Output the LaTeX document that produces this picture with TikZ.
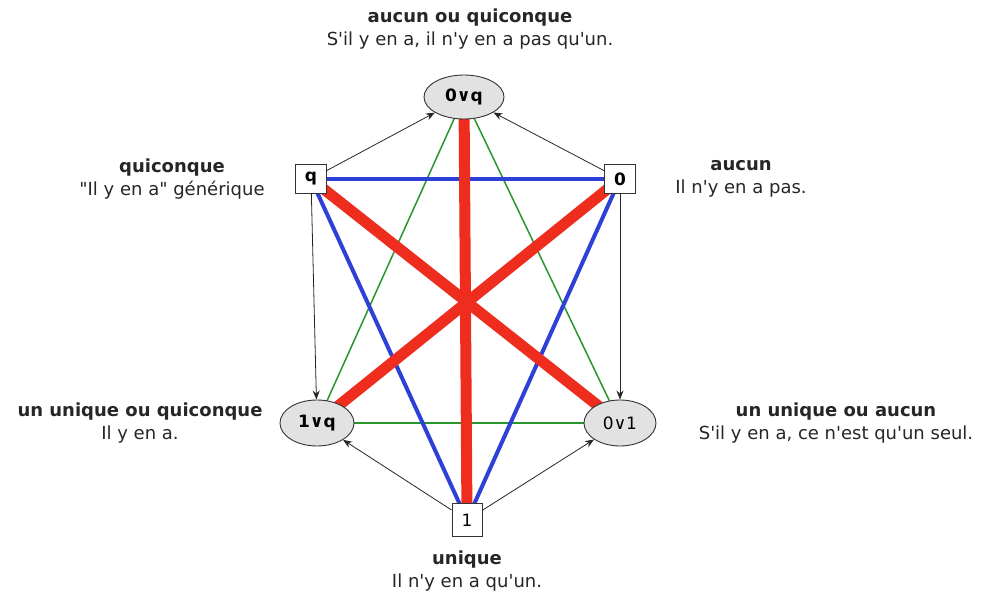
\documentclass[tikz,border=0pt]{standalone}
\usepackage{fontspec}
\setmainfont{DejaVu Sans}[Ligatures=TeXOff]
\usetikzlibrary{shapes.geometric,arrows.meta}
\definecolor{rline}{RGB}{238,45,30}
\definecolor{bline}{RGB}{45,65,215}
\definecolor{gline}{RGB}{40,150,45}
\definecolor{efill}{RGB}{226,226,226}
\pgfdeclarelayer{bg}
\pgfsetlayers{bg,main}
\begin{document}
\begin{tikzpicture}[x=1pt,y=-1pt,
  ell/.style={ellipse,draw=black!80,fill=efill,line width=0.9pt,minimum width=80,minimum height=44,inner sep=0pt,font=\fontsize{17}{20}\selectfont},
  sq/.style={rectangle,draw=black!80,fill=white,line width=0.9pt,minimum width=31,minimum height=29,inner sep=0pt,font=\fontsize{17}{20}\selectfont},
  lab/.style={align=center,font=\fontsize{18}{23}\selectfont,text=black!85},
  redl/.style={draw=rline,line width=11pt},
  bluel/.style={draw=bline,line width=4pt},
  greenl/.style={draw=gline,line width=1.5pt},
  arr/.style={draw=black!85,line width=0.8pt,-{Stealth[length=9pt,width=7pt]}}
]
\useasboundingbox (0,0) rectangle (989,596);

% nodes
\node[ell] (oq) at (464,97) {\textbf{0∨q}};
\node[sq] (q) at (311,179) {\textbf{q}};
\node[sq] (z) at (620,179) {\textbf{0}};
\node[ell,minimum width=74,minimum height=46] (uq) at (317,423) {\textbf{1∨q}};
\node[ell,minimum width=72,minimum height=46] (zu) at (620,423) {0∨1};
\node[sq,minimum width=30,minimum height=33] (u) at (467,520) {1};

% background connectors
\begin{pgfonlayer}{bg}
\draw[greenl] (oq.center) -- (uq.center);
\draw[greenl] (oq.center) -- (zu.center);
\draw[greenl] (uq.center) -- (zu.center);
\draw[bluel] (q.center) -- (z.center);
\draw[bluel] (q.center) -- (u.center);
\draw[bluel] (z.center) -- (u.center);
\draw[redl] (oq.center) -- (u.center);
\draw[redl] (q.center) -- (zu.center);
\draw[redl] (z.center) -- (uq.center);
\end{pgfonlayer}

% arrows
\draw[arr] (q) -- (oq);
\draw[arr] (z) -- (oq);
\draw[arr] (q) -- (uq);
\draw[arr] (z) -- (zu);
\draw[arr] (u) -- (uq);
\draw[arr] (u) -- (zu);

% labels
\node[lab] (toplab) at (470,29) {\textbf{aucun ou quiconque}\\S'il y en a, il n'y en a pas qu'un.};
\node[lab] (qlab) at (172,179) {\textbf{quiconque}\\"Il y en a" générique};
\node[lab] (zlab) at (741,179) {\textbf{aucun}\\Il n'y en a pas.};
\node[lab] (uqlab) at (140,423) {\textbf{un unique ou quiconque}\\Il y en a.};
\node[lab] (zulab) at (836,423) {\textbf{un unique ou aucun}\\S'il y en a, ce n'est qu'un seul.};
\node[lab] (ulab) at (467,571) {\textbf{unique}\\Il n'y en a qu'un.};
\end{tikzpicture}
\end{document}
